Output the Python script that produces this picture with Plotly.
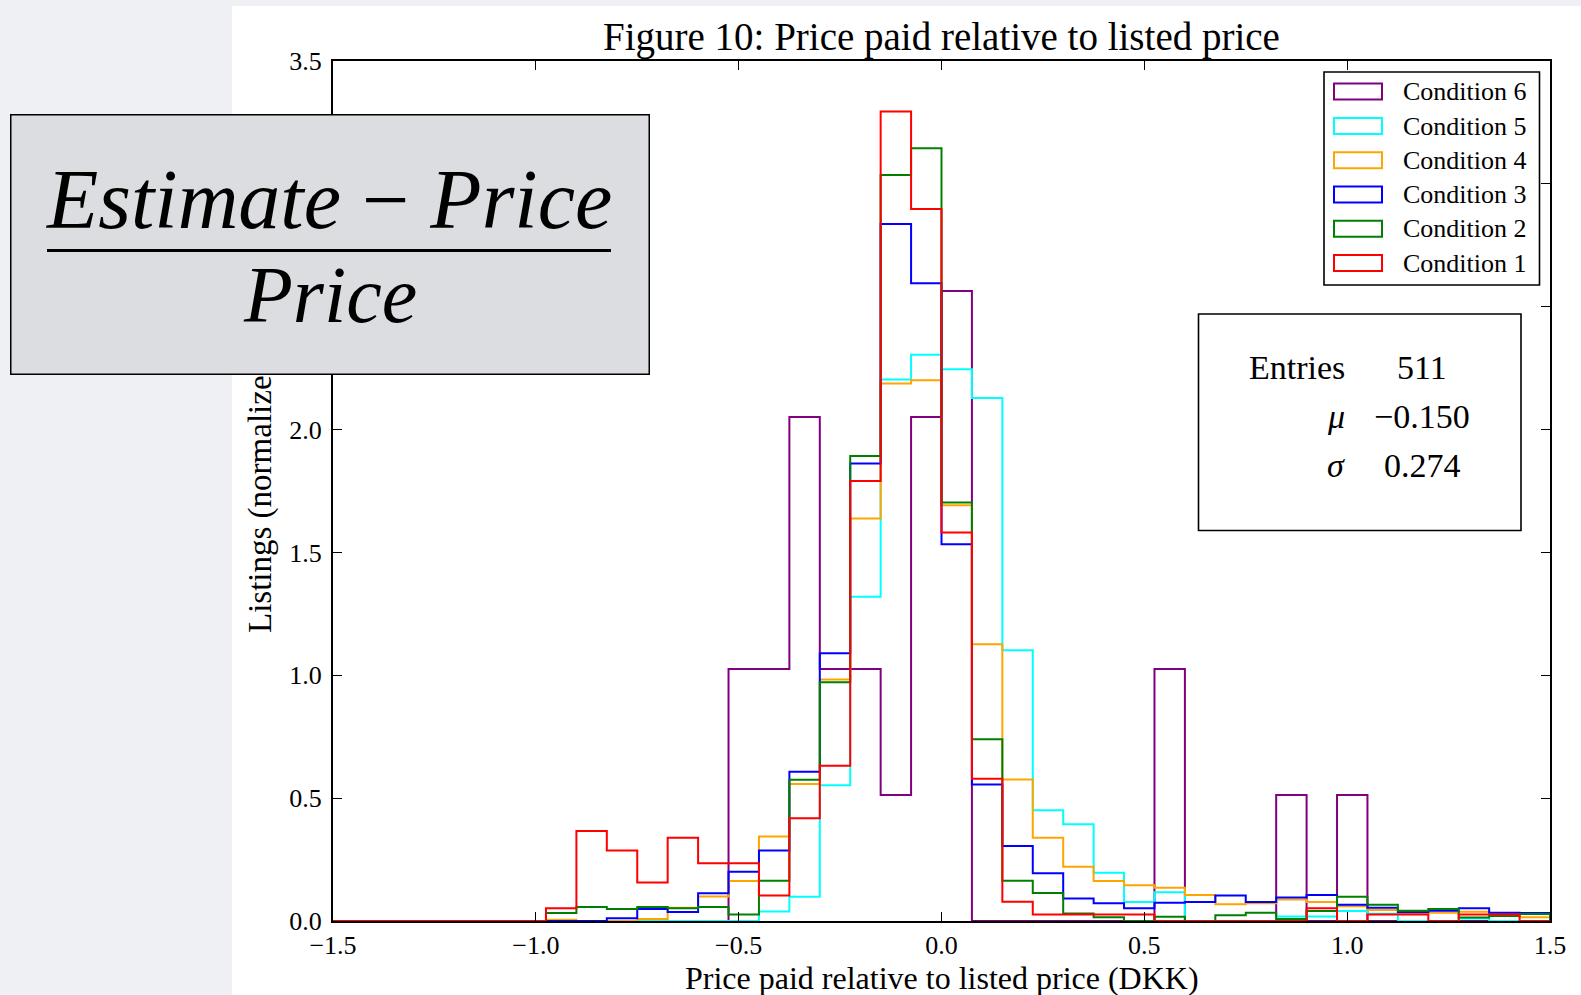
import numpy as np
import plotly.graph_objects as go

# ---- histogram data: normalised densities, 40 bins of width 0.075 on [-1.5, 1.5]
BIN_START = -1.5
BIN_WIDTH = 0.075
N_BINS = 40

cond1 = [0, 0, 0, 0, 0, 0, 0, 0.052, 0.366, 0.287,
         0.157, 0.339, 0.235, 0.235, 0.104, 0.418, 0.632, 1.791, 3.294, 2.898,
         1.581, 0.579, 0.078, 0.026, 0.026, 0.026, 0.026, 0, 0, 0,
         0, 0, 0.052, 0, 0.026, 0.026, 0, 0.026, 0.026, 0]
cond2 = [0, 0, 0, 0, 0, 0, 0, 0.033, 0.057, 0.049,
         0.057, 0.052, 0.057, 0.026, 0.164, 0.575, 0.972, 1.892, 3.036, 3.145,
         1.703, 0.740, 0.164, 0.114, 0.031, 0.015, 0, 0.017, 0, 0.023,
         0.034, 0.008, 0.041, 0.099, 0.066, 0.042, 0.049, 0.014, 0.020, 0.028]
cond3 = [0, 0, 0, 0, 0, 0, 0, 0, 0, 0.011,
         0.049, 0.037, 0.113, 0.200, 0.287, 0.607, 1.090, 1.862, 2.837, 2.596,
         1.533, 0.556, 0.305, 0.194, 0.092, 0.072, 0.052, 0.074, 0.077, 0.104,
         0.077, 0.096, 0.106, 0.066, 0.054, 0.037, 0.042, 0.052, 0.034, 0.033]
cond4 = [0, 0, 0, 0, 0, 0, 0, 0.005, 0, 0,
         0.008, 0.054, 0.100, 0.163, 0.344, 0.558, 0.983, 1.638, 2.188, 2.201,
         1.692, 1.126, 0.576, 0.339, 0.221, 0.163, 0.146, 0.135, 0.106, 0.068,
         0.072, 0.088, 0.077, 0.060, 0.045, 0.031, 0.034, 0.038, 0.028, 0.015]
cond5 = [0, 0, 0, 0, 0, 0, 0, 0, 0, 0,
         0, 0, 0, 0, 0.039, 0.099, 0.552, 1.320, 2.204, 2.305,
         2.245, 2.128, 1.102, 0.451, 0.394, 0.196, 0.077, 0.117, 0, 0,
         0, 0.018, 0.018, 0.041, 0.030, 0, 0, 0.010, 0, 0]
cond6 = [0, 0, 0, 0, 0, 0, 0, 0, 0, 0,
         0, 0, 0, 1.026, 1.026, 2.051, 1.026, 1.026, 0.513, 2.051,
         2.564, 0, 0, 0, 0, 0, 0, 1.026, 0, 0,
         0, 0.513, 0, 0.513, 0, 0, 0, 0, 0, 0]

series_names = ["Condition 6", "Condition 5", "Condition 4",
                "Condition 3", "Condition 2", "Condition 1"]
series_values = [cond6, cond5, cond4, cond3, cond2, cond1]
series_colors = ["#800080", "#00ffff", "#ffa500", "#0000ff", "#008000", "#ff0000"]

x_ticks = [-1.5, -1.0, -0.5, 0.0, 0.5, 1.0, 1.5]
y_ticks = [0.0, 0.5, 1.0, 1.5, 2.0, 2.5, 3.0, 3.5]

stats_labels = ["Entries", "<i>μ</i>", "<i>σ</i>"]
stats_values = ["511", "−0.150", "0.274"]

# ---- page geometry (pixels)
W, H = 1581, 995
ML, MR, MT, MB = 333, 31, 61, 74
PW, PH = W - ML - MR, H - MT - MB
FONT = "Liberation Serif"


def px(xp):
    return (xp - ML) / PW


def py(yp):
    return (H - MB - yp) / PH


def fmt(v):
    s = f"{v:.1f}"
    return s.replace("-", "−")


edges = BIN_START + BIN_WIDTH * np.arange(N_BINS + 1)

fig = go.Figure()
for name, vals, col in zip(series_names, series_values, series_colors):
    xs = [edges[0]] + list(edges[:-1]) + [edges[-1]]
    ys = [0.0] + list(vals) + [0.0]
    fig.add_trace(go.Scatter(x=xs, y=ys, mode="lines", name=name,
                             line=dict(color=col, width=2, shape="hv"),
                             showlegend=False, hoverinfo="skip"))

axis_common = dict(showline=True, linecolor="black", linewidth=2, mirror="ticks",
                   ticks="inside", ticklen=9, tickwidth=1.2, tickcolor="black",
                   showgrid=False, zeroline=False,
                   tickfont=dict(family=FONT, size=26, color="black"))

fig.update_xaxes(range=[-1.5, 1.5], tickvals=x_ticks,
                 ticktext=[fmt(v) for v in x_ticks], ticklabelstandoff=0,
                 **axis_common)
fig.update_yaxes(range=[0, 3.5], tickvals=y_ticks,
                 ticktext=[fmt(v) for v in y_ticks], ticklabelstandoff=4,
                 **axis_common)

shapes = [
    # white panel behind the figure
    dict(type="rect", xref="paper", yref="paper", layer="below",
         x0=px(232), x1=px(W + 5), y0=py(6), y1=py(H + 5),
         fillcolor="white", line=dict(width=0)),
    # legend frame
    dict(type="rect", xref="paper", yref="paper", layer="above",
         x0=px(1324), x1=px(1539.5), y0=py(72), y1=py(285),
         fillcolor="white", line=dict(color="black", width=1.6)),
    # statistics frame
    dict(type="rect", xref="paper", yref="paper", layer="above",
         x0=px(1198.5), x1=px(1521), y0=py(314), y1=py(530.5),
         fillcolor="white", line=dict(color="black", width=1.6)),
]

annotations = [
    dict(text="Figure 10: Price paid relative to listed price", x=px(941.5), y=py(37),
         xref="paper", yref="paper", showarrow=False, xanchor="center", yanchor="middle",
         font=dict(family=FONT, size=39, color="black")),
    dict(text="Price paid relative to listed price (DKK)", x=px(942), y=py(978),
         xref="paper", yref="paper", showarrow=False, xanchor="center", yanchor="middle",
         font=dict(family=FONT, size=32, color="black")),
    dict(text="Listings (normalized)", x=px(260), y=py(491), textangle=-90,
         xref="paper", yref="paper", showarrow=False, xanchor="center", yanchor="middle",
         font=dict(family=FONT, size=33, color="black")),
]

# legend rows
row_y = [91.5, 126, 160.3, 194.5, 228.8, 263]
for name, col, yy in zip(series_names, series_colors, row_y):
    shapes.append(dict(type="rect", xref="paper", yref="paper", layer="above",
                       x0=px(1334), x1=px(1382), y0=py(yy - 8), y1=py(yy + 8),
                       fillcolor="white", line=dict(color=col, width=2)))
    annotations.append(dict(text=name, x=px(1401), y=py(yy), xref="paper", yref="paper",
                            showarrow=False, xanchor="left", yanchor="middle",
                            font=dict(family=FONT, size=26, color="black")))

# statistics text
stat_y = [367, 416.5, 465]
for lab, val, yy in zip(stats_labels, stats_values, stat_y):
    annotations.append(dict(text=lab, x=px(1347), y=py(yy), xref="paper", yref="paper",
                            showarrow=False, xanchor="right", yanchor="middle",
                            font=dict(family=FONT, size=34, color="black")))
    annotations.append(dict(text=val, x=px(1422), y=py(yy), xref="paper", yref="paper",
                            showarrow=False, xanchor="center", yanchor="middle",
                            font=dict(family=FONT, size=34, color="black")))

# formula panel (drawn last so it sits over the axis title)
annotations += [
    dict(text=" ", x=px(329.5), y=py(244), xref="paper", yref="paper", showarrow=False,
         xanchor="center", yanchor="middle", width=637, height=258, borderpad=0,
         bgcolor="#dcdde0", bordercolor="black", borderwidth=1.5,
         font=dict(size=4)),
    dict(text=" ", x=px(329), y=py(251), xref="paper", yref="paper", showarrow=False,
         xanchor="center", yanchor="middle", width=564, height=3, borderpad=0,
         bgcolor="black", borderwidth=0, font=dict(size=1)),
    dict(text="<i>Estimate</i> − <i>Price</i>", x=px(329), y=py(199),
         xref="paper", yref="paper", showarrow=False, xanchor="center", yanchor="middle",
         font=dict(family=FONT, size=84, color="black")),
    dict(text="<i>Price</i>", x=px(330), y=py(295),
         xref="paper", yref="paper", showarrow=False, xanchor="center", yanchor="middle",
         font=dict(family=FONT, size=80, color="black")),
]

fig.update_layout(width=W, height=H,
                  margin=dict(l=ML, r=MR, t=MT, b=MB, pad=0),
                  paper_bgcolor="#eff0f4", plot_bgcolor="white",
                  shapes=shapes, annotations=annotations, showlegend=False)

fig.write_html("out.html")
